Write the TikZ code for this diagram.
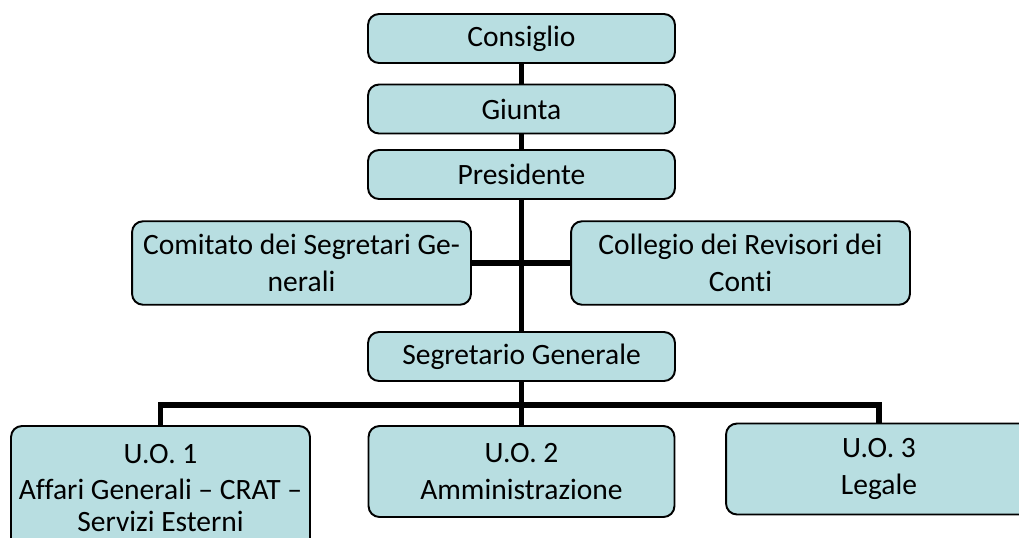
\documentclass[tikz,border=0pt]{standalone}
\usepackage{fontspec}
\setmainfont{Carlito}[Ligatures=NoCommon]
\definecolor{boxfill}{RGB}{184,222,225}
\tikzset{
  unit/.style={draw=black, line width=1.1pt, fill=boxfill, rounded corners=0.22cm,
    align=center, inner sep=0pt, font=\fontsize{16.8}{20.8}\selectfont},
  topbox/.style={unit, minimum width=6.14cm, minimum height=0.98cm},
  sidebox/.style={unit, minimum width=6.78cm, minimum height=1.67cm},
  uobox/.style={unit, minimum width=6.12cm, minimum height=1.82cm},
  link/.style={line width=3.4pt}
}
\begin{document}
\begin{tikzpicture}[x=0.02cm,y=-0.02cm]
	\useasboundingbox (0,0) rectangle (1019,538);
	\clip (0,0) rectangle (1019,538);
	\node[topbox] (consiglio) at (521.5,38.5) {Consiglio};
	\node[topbox] (giunta) at (521.5,109) {Giunta};
	\node[topbox] (presidente) at (521.5,174.5) {Presidente};
	\node[sidebox] (comitato) at (301.5,263) {Comitato dei Segretari Ge-\\nerali};
	\node[sidebox] (collegio) at (740.5,263) {Collegio dei Revisori dei\\Conti};
	\node[topbox] (segretario) at (521.5,356.5) {Segretario Generale};
	\node[uobox, minimum width=5.98cm, minimum height=2.48cm] (uo1) at (160.5,488) {U.O. 1\\Affari Generali -- CRAT --\\[-0.1cm]Servizi Esterni};
	\node[uobox] (uo2) at (521.5,471.5) {U.O. 2\\Amministrazione};
	\node[uobox] (uo3) at (879,469) {U.O. 3\\Legale};
	\coordinate (bus) at (521.5,405);
	\draw[link] (consiglio.south) -- (giunta.north);
	\draw[link] (giunta.south) -- (presidente.north);
	\draw[link] (presidente.south) -- (segretario.north);
	\draw[link] (comitato.east) -- (collegio.west);
	\draw[link] (segretario.south) -- (uo2.north);
	\draw[link] (uo1.north) |- (bus) -| (uo3.north);
\end{tikzpicture}
\end{document}
